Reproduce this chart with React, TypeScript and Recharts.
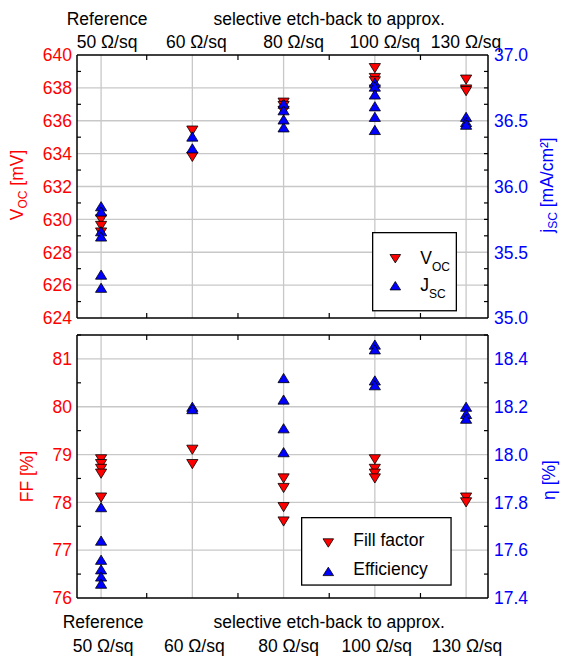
import React from 'react';
import { ScatterChart, Scatter, XAxis, YAxis, ReferenceLine, Legend } from 'recharts';

const FONT = '"Liberation Sans", Arial, Helvetica, sans-serif';
const RED = '#ff0000';
const BLUE = '#0000ff';
const GRID = '#c8c8c8';

const categories = ['50 Ω/sq', '60 Ω/sq', '80 Ω/sq', '100 Ω/sq', '130 Ω/sq'];
const groupLabels = ['Reference', 'selective etch-back to approx.'];

// open-circuit voltage [mV], one list per category
const vocValues = [
  [630.0, 629.6, 629.2],
  [635.4, 633.8],
  [637.1, 636.9, 636.6],
  [639.2, 638.6, 638.4, 637.9],
  [638.5, 637.9, 637.8],
];
// short-circuit current density [mA/cm²]
const jscValues = [
  [35.85, 35.81, 35.66, 35.62, 35.33, 35.23],
  [36.38, 36.29],
  [36.63, 36.58, 36.51, 36.45],
  [36.79, 36.76, 36.7, 36.61, 36.53, 36.43],
  [36.53, 36.49, 36.47],
];
// fill factor [%]
const ffValues = [
  [78.9, 78.8, 78.7, 78.6, 78.1],
  [79.1, 78.8],
  [78.5, 78.3, 77.9, 77.6],
  [78.9, 78.7, 78.6, 78.5],
  [78.1, 78.0],
];
// efficiency [%]
const etaValues = [
  [17.78, 17.64, 17.56, 17.52, 17.49, 17.46],
  [18.2, 18.19],
  [18.32, 18.23, 18.11, 18.01],
  [18.46, 18.44, 18.31, 18.29],
  [18.2, 18.17, 18.15],
];

const vocTicks = [624, 626, 628, 630, 632, 634, 636, 638, 640];
const jscTicks = [35.0, 35.5, 36.0, 36.5, 37.0];
const ffTicks = [76, 77, 78, 79, 80, 81];
const etaTicks = [17.4, 17.6, 17.8, 18.0, 18.2, 18.4];

const X_DOMAIN = [-0.264, 4.24];
// the category labels sit a little off their grid line in the original
const topShift = [6, 4, 10, 10, 0];
const bottomShift = [2, 2, 5, 2, 1];

// plot edges (chart margin + axis width)
const PLOT_LEFT = 77;
const PLOT_RIGHT = 488;

const steps = (from: number, to: number, step: number) => {
  const out: number[] = [];
  for (let v = from; v <= to + 1e-9; v += step) out.push(+v.toFixed(4));
  return out;
};
const isIn = (list: number[], v: number) => list.some((m) => Math.abs(m - v) < 1e-6);
const toPoints = (vals: number[][]) => vals.flatMap((arr, i) => arr.map((v) => ({ x: i, y: v })));

const xTicks = steps(0, 4, 0.5);
const frame = { stroke: '#000', strokeWidth: 1.5 };

const Tri = ({ cx, cy, fill, down, w = 5.6, h = 4.6 }: any) => {
  const d = down
    ? `M${cx - w},${cy - h}L${cx + w},${cy - h}L${cx},${cy + h}Z`
    : `M${cx - w},${cy + h}L${cx + w},${cy + h}L${cx},${cy - h}Z`;
  return <path d={d} fill={fill} stroke="#000" strokeWidth={0.8} />;
};

const XTick = ({ x, y, payload, side, showLabels, shifts }: any) => {
  const v = payload.value;
  const isCat = Math.abs(v - Math.round(v)) < 1e-6;
  const dir = side === 'top' ? 1 : -1;
  const catY = side === 'top' ? y - 7.5 : y + 54;
  const grpY = side === 'top' ? y - 30.5 : y + 30;
  return (
    <g>
      {!isCat && <line x1={x} y1={y} x2={x} y2={y + dir * 5} stroke="#000" strokeWidth={1.2} />}
      {showLabels && isCat && (
        <text x={x + shifts[Math.round(v)]} y={catY} textAnchor="middle" fontSize={17.5} fill="#000">
          {categories[Math.round(v)]}
        </text>
      )}
      {showLabels && v === 0 && (
        <text x={x + shifts[0]} y={grpY} textAnchor="middle" fontSize={17.5} fill="#000">
          {groupLabels[0]}
        </text>
      )}
      {showLabels && v === 2.5 && (
        <text x={x} y={grpY} textAnchor="middle" fontSize={17.5} fill="#000">
          {groupLabels[1]}
        </text>
      )}
    </g>
  );
};

const YTick = ({ x, y, payload, side, majors, color, digits }: any) => {
  const v = payload.value;
  const major = isIn(majors, v);
  const dir = side === 'left' ? 1 : -1;
  return (
    <g>
      {!major && <line x1={x} y1={y} x2={x + dir * 4} y2={y} stroke="#000" strokeWidth={1.2} />}
      {major && (
        <text
          x={side === 'left' ? x - 5 : x + 6}
          y={y}
          dy="0.36em"
          textAnchor={side === 'left' ? 'end' : 'start'}
          fill={color}
          fontSize={17.5}
        >
          {v.toFixed(digits)}
        </text>
      )}
    </g>
  );
};

const AxisTitle = ({ viewBox, side, main, sub, rest, color, gap, shiftY }: any) => {
  if (!viewBox) return null;
  const { y, height } = viewBox;
  const bx = side === 'left' ? PLOT_LEFT - gap : PLOT_RIGHT + gap;
  const cy = y + height / 2 + shiftY;
  return (
    <text transform={`rotate(-90, ${bx}, ${cy})`} x={bx} y={cy} textAnchor="middle" fill={color} fontSize={17.5}>
      {main}
      <tspan fontSize={12} dy={4}>{sub}</tspan>
      <tspan dy={-4}>{rest}</tspan>
    </text>
  );
};

const LegendBox = ({ width, height, items, triX, rows, textX, textDy }: any) => (
  <svg width={width} height={height} style={{ display: 'block', overflow: 'visible' }}>
    <rect x={0.65} y={0.65} width={width - 1.3} height={height - 1.3} fill="#fff" stroke="#000" strokeWidth={1.3} />
    {items.map((it: any, i: number) => (
      <g key={i}>
        <Tri cx={triX} cy={rows[i]} fill={it.color} down={it.down} w={5.3} h={4.2} />
        <text x={textX} y={rows[i] + textDy} fontSize={17.5} fill="#000">
          {it.main}
          {it.sub && <tspan fontSize={12} dy={7}>{it.sub}</tspan>}
        </text>
      </g>
    ))}
  </svg>
);

function Panel({ height, margin, left, right, series, legend, labelSide }: any) {
  const shifts = labelSide === 'top' ? topShift : bottomShift;
  return (
    <ScatterChart width={562} height={height} margin={margin}>
      <XAxis
        xAxisId="t" orientation="top" type="number" dataKey="x" domain={X_DOMAIN} ticks={xTicks}
        interval={0} allowDataOverflow height={labelSide === 'top' ? 10 : 5} tickSize={0} tickMargin={0}
        tickLine={false} axisLine={frame}
        tick={<XTick side="top" showLabels={labelSide === 'top'} shifts={shifts} />}
      />
      <XAxis
        xAxisId="b" orientation="bottom" type="number" dataKey="x" domain={X_DOMAIN} ticks={xTicks}
        interval={0} allowDataOverflow height={10} tickSize={0} tickMargin={0}
        tickLine={false} axisLine={frame}
        tick={<XTick side="bottom" showLabels={labelSide === 'bottom'} shifts={shifts} />}
      />
      <YAxis
        yAxisId="l" orientation="left" type="number" dataKey="y" domain={left.domain}
        ticks={steps(left.domain[0], left.domain[1], left.minor)} interval={0} allowDataOverflow
        width={40} tickSize={0} tickMargin={0} tickLine={false} axisLine={frame}
        tick={<YTick side="left" majors={left.majors} color={RED} digits={left.digits} />}
        label={<AxisTitle side="left" color={RED} {...left.title} />}
      />
      <YAxis
        yAxisId="r" orientation="right" type="number" dataKey="y" domain={right.domain}
        ticks={steps(right.domain[0], right.domain[1], right.minor)} interval={0} allowDataOverflow
        width={40} tickSize={0} tickMargin={0} tickLine={false} axisLine={frame}
        tick={<YTick side="right" majors={right.majors} color={BLUE} digits={right.digits} />}
        label={<AxisTitle side="right" color={BLUE} {...right.title} />}
      />
      {categories.map((c, i) => (
        <ReferenceLine key={c} x={i} xAxisId="b" yAxisId="l" stroke={GRID} strokeWidth={1.3} />
      ))}
      {left.majors
        .filter((v: number) => v > left.domain[0] && v < left.domain[1])
        .map((v: number) => (
          <ReferenceLine key={v} y={v} xAxisId="b" yAxisId="l" stroke={GRID} strokeWidth={1.3} />
        ))}
      {series.map((s: any) => (
        <Scatter
          key={s.name}
          name={s.name}
          data={toPoints(s.values)}
          xAxisId="b"
          yAxisId={s.axis}
          isAnimationActive={false}
          shape={(p: any) => <Tri cx={p.cx} cy={p.cy} fill={s.color} down={s.down} />}
        />
      ))}
      <Legend
        layout="horizontal"
        verticalAlign="middle"
        align="center"
        wrapperStyle={{ left: legend.left, top: legend.top, width: legend.width, height: legend.height }}
        content={() => (
          <LegendBox
            width={legend.width}
            height={legend.height}
            items={series}
            triX={legend.triX}
            rows={legend.rows}
            textX={legend.textX}
            textDy={legend.textDy}
          />
        )}
      />
    </ScatterChart>
  );
}

export default function App() {
  return (
    <div style={{ position: 'absolute', left: 0, top: 0, width: 562, height: 658, background: '#fff', fontFamily: FONT }}>
      <div style={{ position: 'absolute', left: 0, top: 0 }}>
        <Panel
          height={330}
          margin={{ top: 45, right: 34, bottom: 2, left: 37 }}
          labelSide="top"
          left={{
            domain: [624, 640], majors: vocTicks, minor: 1, digits: 0,
            title: { main: 'V', sub: 'OC', rest: ' [mV]', gap: 53.7, shiftY: -1.5 },
          }}
          right={{
            domain: [35, 37], majors: jscTicks, minor: 0.125, digits: 1,
            title: { main: 'j', sub: 'SC', rest: ' [mA/cm²]', gap: 65, shiftY: -1.5 },
          }}
          series={[
            { name: 'Voc', main: 'V', sub: 'OC', values: vocValues, axis: 'l', color: RED, down: true },
            { name: 'Jsc', main: 'J', sub: 'SC', values: jscValues, axis: 'r', color: BLUE, down: false },
          ]}
          legend={{ left: 371.7, top: 232.3, width: 85, height: 79.4, triX: 23.3, rows: [26.7, 53.7], textX: 48.3, textDy: 5 }}
        />
      </div>
      <div style={{ position: 'absolute', left: 0, top: 330 }}>
        <Panel
          height={328}
          margin={{ top: 0, right: 34, bottom: 50, left: 37 }}
          labelSide="bottom"
          left={{
            domain: [76, 81.5], majors: ffTicks, minor: 0.5, digits: 0,
            title: { main: 'FF [%]', sub: '', rest: '', gap: 43.7, shiftY: 10 },
          }}
          right={{
            domain: [17.4, 18.5], majors: etaTicks, minor: 0.1, digits: 1,
            title: { main: 'η [%]', sub: '', rest: '', gap: 67, shiftY: 13.5 },
          }}
          series={[
            { name: 'Fill factor', main: 'Fill factor', values: ffValues, axis: 'l', color: RED, down: true },
            { name: 'Efficiency', main: 'Efficiency', values: etaValues, axis: 'r', color: BLUE, down: false },
          ]}
          legend={{ left: 301, top: 187.3, width: 150.7, height: 68.7, triX: 27.3, rows: [26, 54.4], textX: 52.3, textDy: 3.2 }}
        />
      </div>
    </div>
  );
}
